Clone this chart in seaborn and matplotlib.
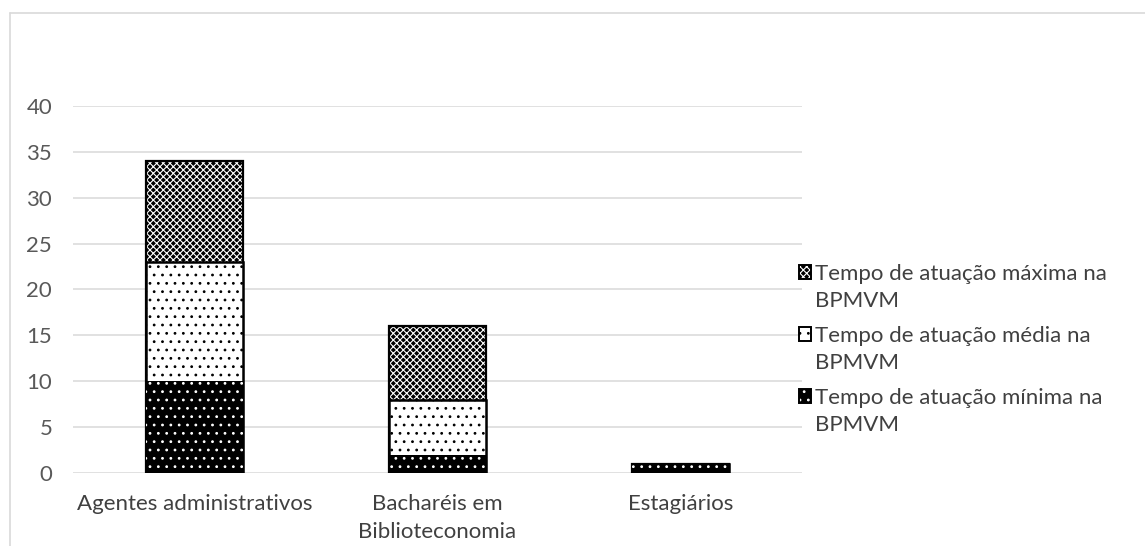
import numpy as np
import pandas as pd
import matplotlib
matplotlib.use("Agg")
import matplotlib.pyplot as plt
from matplotlib.patches import Patch, Rectangle
from matplotlib.legend_handler import HandlerPatch
from matplotlib.lines import Line2D
import seaborn as sns

categories = ["Agentes administrativos", "Bacharéis em\nBiblioteconomia", "Estagiários"]
tempo_minimo = [10, 2, 1]
tempo_medio = [13, 6, 0]
tempo_maximo = [11, 8, 0]

series_labels = [
    "Tempo de atuação máxima na\nBPMVM",
    "Tempo de atuação média na\nBPMVM",
    "Tempo de atuação mínima na\nBPMVM",
]

sns.set_theme(style="white")
plt.rcParams["font.family"] = ["Lato", "DejaVu Sans"]
plt.rcParams["hatch.linewidth"] = 0.8

FS = 16
LEG_LS = 1.4

# cumulative heights so overlapping bars read as a stack
top_min = np.array(tempo_minimo, dtype=float)
top_med = top_min + np.array(tempo_medio, dtype=float)
top_max = top_med + np.array(tempo_maximo, dtype=float)

df = pd.DataFrame({
    "categoria": categories,
    "min": top_min,
    "med": top_med,
    "max": top_max,
})

fig = plt.figure(figsize=(11.45, 5.46), dpi=100)
ax = fig.add_axes([0.0638, 0.1337, 0.6367, 0.6723])

styles = {
    # column: (face, hatch, hatch colour, outline width)
    "max": ("black", "xxxxx", "white", 1.6),
    "med": ("white", "..", "black", 1.8),
    "min": ("black", "..", "white", 0.0),
}

for col in ["max", "med", "min"]:
    face, hatch, hcol, lw = styles[col]
    sns.barplot(data=df, x="categoria", y=col, color=face, width=0.4,
                ax=ax, saturation=1, zorder=3)
    for p in ax.containers[-1]:
        p.set_facecolor(face)
        p.set_edgecolor("black")
        p.set_linewidth(lw)
        p.set_hatch(hatch)
        p._hatch_color = matplotlib.colors.to_rgba(hcol)

ax.set_ylim(0, 40)
ax.set_xlim(-0.5, 2.5)
ax.set_yticks(np.arange(0, 41, 5))
ax.yaxis.grid(True, color="#d9d9d9", linewidth=1.1, zorder=0)
ax.xaxis.grid(False)
for s in ax.spines.values():
    s.set_visible(False)
ax.set_xlabel("")
ax.set_ylabel("")
ax.tick_params(axis="y", length=0, pad=15, labelsize=FS, labelcolor="#595959")
ax.tick_params(axis="x", length=0, pad=15, labelsize=FS, labelcolor="#404040")
for t in ax.get_xticklabels():
    t.set_linespacing(1.49)


# legend keys sit beside the first line of each two-line label
def upper_key(legend, orig_handle, xdescent, ydescent, width, height, fontsize):
    shift = fontsize * LEG_LS * 0.5
    return Rectangle((-xdescent, -ydescent + shift), width, height)


handles = []
for col in ["max", "med", "min"]:
    face, hatch, hcol, lw = styles[col]
    h = Patch(facecolor=face, edgecolor="black", hatch=hatch, linewidth=1.4)
    h._hatch_color = matplotlib.colors.to_rgba(hcol)
    handles.append(h)
leg = fig.legend(handles, series_labels, loc="center left",
                 bbox_to_anchor=(0.680, 0.360), frameon=False,
                 fontsize=FS, labelcolor="#404040", handlelength=0.55,
                 handleheight=0.55, handletextpad=0.2, labelspacing=0.7,
                 handler_map={Patch: HandlerPatch(patch_func=upper_key)})
for t in leg.get_texts():
    t.set_linespacing(LEG_LS)

# outer chart frame
fig.add_artist(Line2D([10 / 1145, 10 / 1145], [0, 1 - 13 / 546],
                      transform=fig.transFigure, color="#d9d9d9", lw=1.2))
fig.add_artist(Line2D([10 / 1145, 1], [1 - 13 / 546, 1 - 13 / 546],
                      transform=fig.transFigure, color="#d9d9d9", lw=1.2))

fig.savefig("out.png", dpi=100, facecolor="white")
